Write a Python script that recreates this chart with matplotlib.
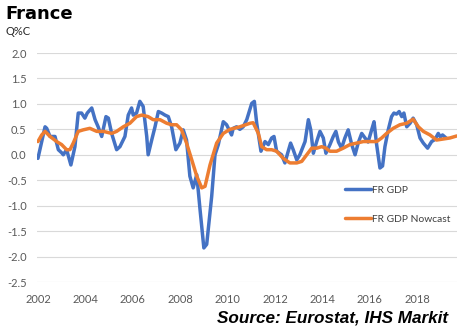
import matplotlib
matplotlib.use("Agg")
import matplotlib.pyplot as plt

# French GDP, quarter-on-quarter % change (decimal year, value)
gdp_year = [2002.00, 2002.30, 2002.37, 2002.51, 2002.72, 2002.86, 2003.00, 2003.07, 2003.21, 2003.39,
            2003.56, 2003.70, 2003.84, 2003.98, 2004.08, 2004.27, 2004.41, 2004.54, 2004.69, 2004.87,
            2004.97, 2005.11, 2005.32, 2005.46, 2005.67, 2005.81, 2005.95, 2006.02, 2006.16, 2006.30,
            2006.44, 2006.59, 2006.65, 2006.80, 2006.94, 2007.08, 2007.22, 2007.36, 2007.50, 2007.64,
            2007.82, 2007.99, 2008.13, 2008.27, 2008.41, 2008.55, 2008.70, 2008.84, 2009.00, 2009.12,
            2009.33, 2009.47, 2009.61, 2009.82, 2009.96, 2010.17, 2010.24, 2010.38, 2010.52, 2010.66,
            2010.81, 2011.02, 2011.13, 2011.23, 2011.41, 2011.58, 2011.72, 2011.86, 2011.96, 2012.07,
            2012.28, 2012.42, 2012.56, 2012.66, 2012.77, 2012.92, 2013.05, 2013.27, 2013.41, 2013.51,
            2013.62, 2013.76, 2013.90, 2014.04, 2014.15, 2014.32, 2014.46, 2014.57, 2014.68, 2014.81,
            2014.95, 2015.09, 2015.24, 2015.38, 2015.51, 2015.66, 2015.80, 2015.93, 2016.08, 2016.18,
            2016.29, 2016.43, 2016.54, 2016.64, 2016.78, 2016.92, 2017.02, 2017.13, 2017.24, 2017.35,
            2017.44, 2017.56, 2017.70, 2017.83, 2017.98, 2018.12, 2018.26, 2018.44, 2018.61, 2018.75,
            2018.89, 2018.98, 2019.07, 2019.22]
gdp_value = [-0.07, 0.55, 0.52, 0.36, 0.36, 0.10, 0.04, 0.00, 0.10, -0.20,
             0.16, 0.82, 0.82, 0.72, 0.82, 0.92, 0.69, 0.55, 0.36, 0.75,
             0.72, 0.42, 0.10, 0.16, 0.36, 0.78, 0.92, 0.78, 0.82, 1.05,
             0.95, 0.36, 0.00, 0.29, 0.55, 0.85, 0.82, 0.78, 0.75, 0.55,
             0.10, 0.23, 0.49, 0.29, -0.42, -0.65, -0.39, -1.08, -1.83, -1.76,
             -0.82, 0.00, 0.20, 0.65, 0.59, 0.39, 0.52, 0.55, 0.50, 0.55,
             0.69, 1.01, 1.05, 0.62, 0.07, 0.26, 0.20, 0.33, 0.36, 0.07,
             0.00, -0.16, 0.07, 0.23, 0.10, -0.10, 0.00, 0.26, 0.69, 0.49,
             0.03, 0.26, 0.46, 0.33, 0.03, 0.20, 0.36, 0.46, 0.25, 0.13,
             0.33, 0.49, 0.20, 0.00, 0.23, 0.42, 0.33, 0.25, 0.49, 0.65,
             0.20, -0.26, -0.22, 0.16, 0.49, 0.75, 0.82, 0.80, 0.85, 0.75,
             0.82, 0.55, 0.62, 0.72, 0.59, 0.33, 0.23, 0.13, 0.26, 0.30,
             0.42, 0.35, 0.39, 0.33]

# Nowcast of French GDP growth
nowcast_year = [2002.00, 2002.16, 2002.30, 2002.51, 2002.79, 2003.00, 2003.21, 2003.35, 2003.49, 2003.70,
                2003.91, 2004.19, 2004.48, 2004.76, 2005.11, 2005.32, 2005.60, 2005.88, 2006.16, 2006.38,
                2006.65, 2006.86, 2007.15, 2007.43, 2007.64, 2007.85, 2008.06, 2008.27, 2008.49, 2008.70,
                2008.91, 2009.05, 2009.26, 2009.54, 2009.82, 2010.10, 2010.52, 2010.95, 2011.08, 2011.30,
                2011.44, 2011.65, 2011.86, 2012.07, 2012.35, 2012.63, 2012.92, 2013.13, 2013.34, 2013.55,
                2013.76, 2013.97, 2014.15, 2014.32, 2014.60, 2014.88, 2015.16, 2015.45, 2015.73, 2016.01,
                2016.29, 2016.50, 2016.71, 2016.99, 2017.27, 2017.56, 2017.83, 2018.05, 2018.26, 2018.54,
                2018.82, 2019.10, 2019.38, 2019.67]
nowcast_value = [0.26, 0.39, 0.46, 0.36, 0.26, 0.20, 0.10, 0.10, 0.23, 0.46,
                 0.49, 0.52, 0.46, 0.46, 0.42, 0.46, 0.55, 0.62, 0.75, 0.78,
                 0.75, 0.69, 0.69, 0.62, 0.59, 0.59, 0.49, 0.23, -0.10, -0.42,
                 -0.65, -0.62, -0.20, 0.23, 0.42, 0.50, 0.55, 0.62, 0.63, 0.42,
                 0.16, 0.10, 0.10, 0.07, -0.07, -0.16, -0.16, -0.13, 0.00, 0.13,
                 0.13, 0.16, 0.13, 0.07, 0.07, 0.13, 0.20, 0.23, 0.26, 0.26,
                 0.26, 0.33, 0.42, 0.52, 0.59, 0.62, 0.70, 0.55, 0.46, 0.39,
                 0.29, 0.31, 0.33, 0.37]

x_ticks = [2002, 2004, 2006, 2008, 2010, 2012, 2014, 2016, 2018]
y_ticks = [-2.5, -2.0, -1.5, -1.0, -0.5, 0.0, 0.5, 1.0, 1.5, 2.0]

BLUE = "#4472C4"
ORANGE = "#ED7D31"
GREY_TEXT = "#595959"

plt.rcParams["font.family"] = ["Lato", "DejaVu Sans"]

fig = plt.figure(figsize=(4.63, 3.28), dpi=100)
ax = fig.add_axes([0.0799, 0.1402, 0.9071, 0.6982])

ax.plot(gdp_year, gdp_value, color=BLUE, lw=2.5, label="FR GDP",
        solid_joinstyle="round", solid_capstyle="round", zorder=3)
ax.plot(nowcast_year, nowcast_value, color=ORANGE, lw=2.5, label="FR GDP Nowcast",
        solid_joinstyle="round", solid_capstyle="round", zorder=4)

ax.set_xlim(2001.96, 2019.68)
ax.set_ylim(-2.5, 2.0)
ax.set_xticks(x_ticks)
ax.set_xticklabels([str(t) for t in x_ticks])
ax.set_yticks(y_ticks)
ax.set_yticklabels([f"{t:.1f}" for t in y_ticks])
ax.tick_params(axis="both", length=0, labelsize=8, colors=GREY_TEXT)
ax.tick_params(axis="y", pad=7.5)
ax.tick_params(axis="x", pad=8.5)
ax.grid(axis="y", color="#D9D9D9", lw=0.8)
ax.set_axisbelow(True)
for s in ax.spines.values():
    s.set_visible(False)

leg = ax.legend(loc="upper left", bbox_to_anchor=(0.733, 0.422), frameon=False,
                fontsize=7.4, handlelength=2.5, handletextpad=0.15,
                labelspacing=1.95, borderpad=0, borderaxespad=0)
for t in leg.get_texts():
    t.set_color("#404040")

fig.text(0.011, 0.942, "France", fontsize=13, fontweight="bold",
         family="DejaVu Sans", color="black", va="baseline")
fig.text(0.011, 0.893, "Q%C", fontsize=8, color="#262626", va="baseline")
fig.text(0.968, 0.018, "Source: Eurostat, IHS Markit", fontsize=12.3,
         fontweight="bold", style="italic", family="Liberation Sans",
         color="black", ha="right", va="baseline")

fig.savefig("out.png", dpi=100)
